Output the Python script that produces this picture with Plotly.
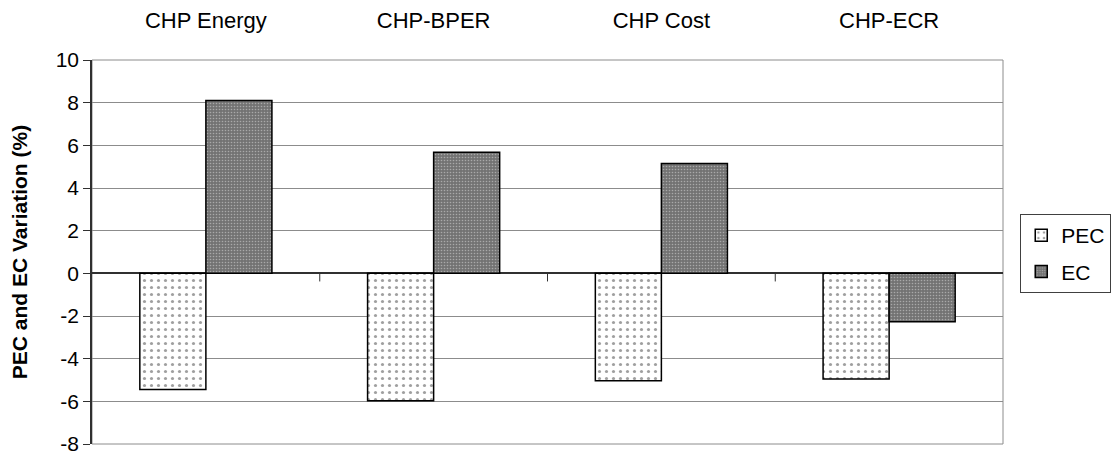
import plotly.graph_objects as go

# Percentage variation in primary energy consumption (PEC) and energy cost (EC)
categories = ["CHP Energy", "CHP-BPER", "CHP Cost", "CHP-ECR"]
pec_values = [-5.45, -5.97, -5.04, -4.95]
ec_values = [8.1, 5.67, 5.15, -2.27]
y_ticks = [10, 8, 6, 4, 2, 0, -2, -4, -6, -8]

FONT = "Arial, Liberation Sans, sans-serif"

fig = go.Figure()
fig.add_trace(go.Bar(
    name="PEC", x=categories, y=pec_values, legendgroup="pec",
    marker=dict(
        color="white",
        line=dict(color="black", width=1.5),
        pattern=dict(shape=".", fgcolor="#404040", bgcolor="white",
                     size=7, solidity=0.16),
    ),
))
fig.add_trace(go.Bar(
    name="EC", x=categories, y=ec_values, legendgroup="ec",
    marker=dict(
        color="#808080",
        line=dict(color="black", width=1.5),
        pattern=dict(shape=".", fgcolor="#e0e0e0", bgcolor="#737373",
                     size=3, solidity=0.22),
    ),
))

# small category-boundary ticks hanging below the zero line
for i in range(len(categories) - 1):
    fig.add_shape(type="line", xref="x", yref="y",
                  x0=i + 0.5, x1=i + 0.5, y0=0, y1=-0.38,
                  line=dict(color="#303030", width=1))

# plot-area frame
fig.add_shape(type="rect", xref="paper", yref="paper", x0=0, x1=1, y0=0, y1=1,
              line=dict(color="#8c8c8c", width=1), layer="below")

fig.update_layout(
    width=1115, height=457,
    margin=dict(l=92, r=112, t=60, b=13, autoexpand=False),
    paper_bgcolor="white", plot_bgcolor="white",
    font=dict(family=FONT, size=21, color="black"),
    barmode="group", bargap=0.42, bargroupgap=0,
    showlegend=True,
    legend=dict(
        xref="container", yref="container",
        x=0.915, xanchor="left", y=0.445, yanchor="middle",
        bordercolor="#404040", borderwidth=1, bgcolor="white",
        font=dict(family=FONT, size=21),
        itemwidth=30, traceorder="grouped", tracegroupgap=6,
    ),
    xaxis=dict(
        side="top", showline=False, showgrid=False, ticks="",
        tickfont=dict(family=FONT, size=22),
        ticklabelstandoff=27, automargin=False,
    ),
    yaxis=dict(
        range=[-8, 10], tickvals=y_ticks, ticktext=[str(v) for v in y_ticks],
        showgrid=True, gridcolor="#8c8c8c", gridwidth=1,
        showline=True, linecolor="#303030", linewidth=1.5,
        ticks="outside", ticklen=7, tickcolor="#303030",
        zeroline=True, zerolinecolor="#303030", zerolinewidth=1.5,
        tickfont=dict(family=FONT, size=21), automargin=False,
        title=dict(text="<b>PEC and EC Variation (%)</b>",
                   font=dict(family=FONT, size=21), standoff=22),
    ),
)

fig.write_html("out.html")
